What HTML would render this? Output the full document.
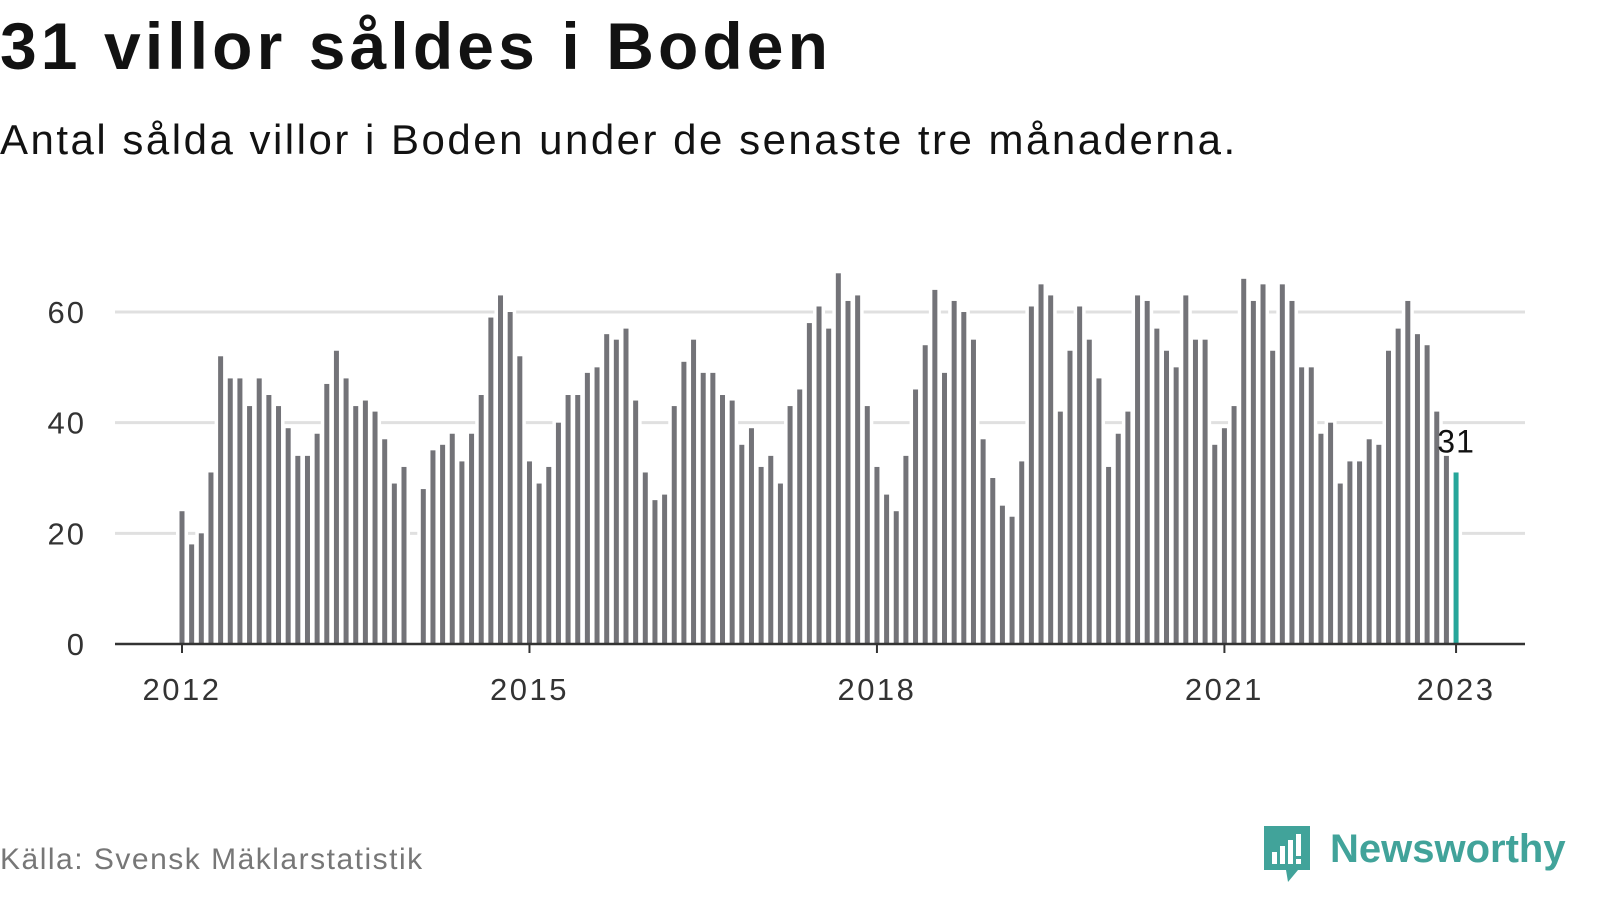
<!DOCTYPE html>
<html><head><meta charset="utf-8"><style>
body{margin:0;width:1600px;height:900px;background:#fff;font-family:"Liberation Sans","DejaVu Sans",sans-serif;overflow:hidden;position:relative}
#title{position:absolute;left:0;top:8px;font-size:66px;font-weight:bold;color:#121212;letter-spacing:4.1px}
#sub{position:absolute;left:0;top:116px;font-size:42px;color:#121212;letter-spacing:2.5px}
#src{position:absolute;left:0;top:843px;font-size:30px;color:#777;letter-spacing:1.5px}
#logo{position:absolute;left:1262px;top:822px}
</style></head><body>
<div id="title">31 villor såldes i Boden</div>
<div id="sub">Antal sålda villor i Boden under de senaste tre månaderna.</div>
<div id="src">Källa: Svensk Mäklarstatistik</div>
<svg id="logo" width="310" height="62">
<path d="M2 4h46v44h-12l-10 12l-2-12h-22z" fill="#41a39a"/>
<rect x="10" y="30" width="5" height="12" fill="#fff"/><rect x="18" y="24" width="5" height="18" fill="#fff"/><rect x="26" y="18" width="5" height="24" fill="#fff"/><rect x="34" y="12" width="5" height="22" fill="#fff"/><rect x="34" y="37" width="5" height="5" fill="#fff"/>
<text x="68" y="40" font-size="40" font-weight="bold" fill="#41a39a" font-family="Liberation Sans, sans-serif">Newsworthy</text>
</svg>
<svg id="chart" width="1600" height="900" style="position:absolute;left:0;top:0"></svg>
<script>
const values=[24,18,20,31,52,48,48,43,48,45,43,39,34,34,38,47,53,48,43,44,42,37,29,32,null,
28,35,36,38,33,38,45,59,63,60,52,33,29,32,40,45,45,49,50,56,55,57,44,31,26,27,43,51,55,49,49,45,44,36,39,32,34,29,43,46,58,61,57,67,62,63,43,32,27,24,34,46,54,64,49,62,60,55,37,30,25,23,33,61,65,63,42,53,61,55,48,32,38,42,63,62,57,53,50,63,55,55,36,39,43,66,62,65,53,65,62,50,50,38,40,29,33,33,37,36,53,57,62,56,54,42,34,31];
const yTicks=[0,20,40,60];
const xTickLabels=["2012","2015","2018","2021","2023"];
const xTickIdx=[0,36,72,108,132];
const svg=document.getElementById('chart');
const NS='http://www.w3.org/2000/svg';
const x0=182,dx=9.652,y0=644,ky=5.533;
const X=i=>x0+i*dx, Y=v=>y0-v*ky;
function mk(t,a){const e=document.createElementNS(NS,t);for(const k in a)e.setAttribute(k,a[k]);svg.appendChild(e);return e;}
yTicks.forEach(v=>{
 if(v>0){const g=mk('line',{x1:115,x2:1525,y1:Y(v),y2:Y(v),stroke:'#e0e0e0','stroke-width':3});
 
 }
 const t=mk('text',{x:86,y:Y(v)+11,'text-anchor':'end','font-size':31,fill:'#333','letter-spacing':2});
 t.textContent=v;
 
 
});
values.forEach((v,i)=>{
 if(v==null)return;
 const w=mk('rect',{x:X(i)-6,y:Y(v)-3,width:12,height:v*ky+3,fill:'#fff'});
 
 
});
values.forEach((v,i)=>{
 if(v==null)return;
 const last=i===values.length-1;
 const r=mk('rect',{x:X(i)-2.5,y:Y(v),width:5,height:v*ky,fill:last?'#26a69a':'#737378'});
 
 
});
const li=values.length-1;
const lab=mk('text',{x:X(li),y:Y(values[li])-20,'text-anchor':'middle','font-size':32,fill:'#111','letter-spacing':1});
lab.textContent=values[li];


const ax=mk('line',{x1:115,x2:1525,y1:y0,y2:y0,stroke:'#333','stroke-width':2.5});


xTickIdx.forEach((idx,k)=>{
 const tk=mk('line',{x1:X(idx),x2:X(idx),y1:y0,y2:y0+9,stroke:'#333','stroke-width':2});
 
 
 const t=mk('text',{x:X(idx),y:700,'text-anchor':'middle','font-size':31,fill:'#333','letter-spacing':2.5});
 t.textContent=xTickLabels[k];
 
 
});
</script>
</body></html>
